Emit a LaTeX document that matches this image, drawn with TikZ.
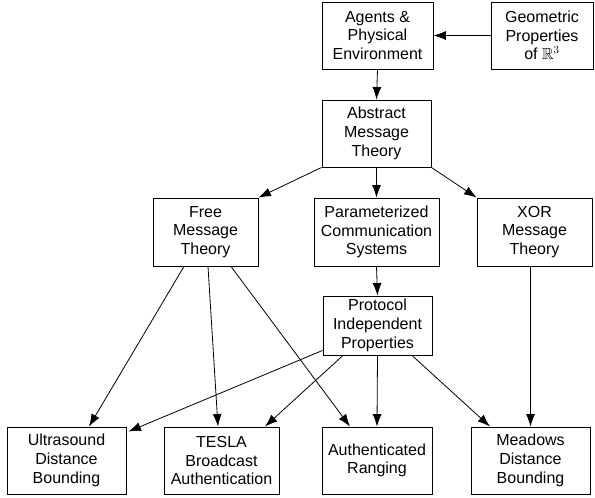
\documentclass[tikz,border=0pt]{standalone}
\usepackage{amssymb}
\usepackage{fontspec}
\setmainfont{Liberation Sans}
\usetikzlibrary{arrows.meta}
\begin{document}
\begin{tikzpicture}[x=1pt,y=-1pt,
  box/.style={draw,line width=0.9pt,align=center,inner sep=0pt,
    font=\fontsize{16}{18.7}\selectfont},
  arr/.style={line width=0.8pt,-{Latex[length=12.5pt,width=9pt]}}]
\useasboundingbox (0,0) rectangle (595,498);
\node[box,minimum width=111pt,minimum height=67pt] (agents) at (377.5,35.5) {Agents \&\\Physical\\Environment};
\node[box,minimum width=102pt,minimum height=67pt] (geo) at (542,35.5) {Geometric\\Properties\\of $\mathbb{R}^3$};
\node[box,minimum width=109pt,minimum height=67pt] (abstract) at (376.5,133.5) {Abstract\\Message\\Theory};
\node[box,minimum width=105pt,minimum height=68pt] (free) at (205.5,232) {Free\\Message\\Theory};
\node[box,minimum width=125pt,minimum height=68pt] (param) at (376.5,232) {Parameterized\\Communication\\Systems};
\node[box,minimum width=115pt,minimum height=68pt] (xor) at (534.5,232) {XOR\\Message\\Theory};
\node[box,minimum width=109pt,minimum height=59pt] (protocol) at (377.5,325.5) {Protocol\\Independent\\Properties};
\node[box,minimum width=119pt,minimum height=67pt] (ultra) at (66.5,460.5) {Ultrasound\\Distance\\Bounding};
\node[box,minimum width=115pt,minimum height=67pt] (tesla) at (221.5,460.5) {TESLA\\Broadcast\\Authentication};
\node[box,minimum width=110pt,minimum height=67pt] (auth) at (377,460.5) {Authenticated\\Ranging};
\node[box,minimum width=119pt,minimum height=67pt] (meadows) at (530.5,460.5) {Meadows\\Distance\\Bounding};

\draw[arr] (geo.west) -- (agents.east);
\draw[arr] (agents.south) -- (abstract.north);
\draw[arr] (abstract.south west) -- (free.north east);
\draw[arr] (abstract.south) -- (param.north);
\draw[arr] (abstract.south east) -- (xor.north west);
\draw[arr] (param.south) -- (protocol.north);
\draw[arr] ([xshift=-21.5pt]free.south) -- ([xshift=22.5pt]ultra.north);
\draw[arr] ([xshift=2.5pt]free.south) -- ([xshift=-3.5pt]tesla.north);
\draw[arr] ([xshift=25.5pt]free.south) -- ([xshift=-27pt]auth.north);
\draw[arr] ([yshift=5pt]protocol.south west) -- ([xshift=2pt,yshift=-5pt]ultra.north east);
\draw[arr] ([xshift=-34.5pt]protocol.south) -- ([xshift=43.5pt]tesla.north);
\draw[arr] (protocol.south) -- (auth.north);
\draw[arr] ([xshift=34.5pt]protocol.south) -- ([xshift=-40.5pt]meadows.north);
\draw[arr] (xor.south -| meadows.north) -- (meadows.north);
\end{tikzpicture}
\end{document}
